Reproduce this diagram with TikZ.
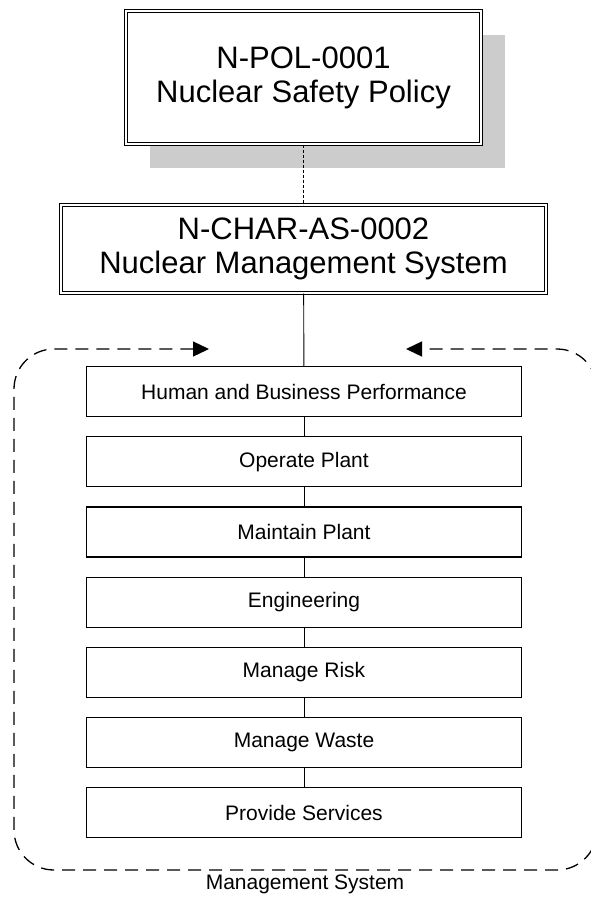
\documentclass[tikz,border=0pt]{standalone}
\usepackage{fontspec}
\setmainfont{Liberation Sans}
\usetikzlibrary{arrows.meta,shadows}

\begin{document}
\begin{tikzpicture}[x=1pt,y=-1pt,
  doc/.style={draw,double,double distance=2pt,line width=1pt,fill=white,
    inner sep=0pt,align=center,font=\fontsize{31}{34}\selectfont},
  process/.style={draw,line width=1.2pt,fill=white,minimum width=435pt,
    minimum height=50pt,font=\fontsize{21}{25}\selectfont},
  link/.style={line width=0.9pt},
  policylink/.style={line width=0.8pt,dash pattern=on 3pt off 2pt},
  mgmtloop/.style={line width=1.3pt,dash pattern=on 13pt off 8pt,
    rounded corners=40pt,
    {Triangle[length=16pt,width=15pt]}-{Triangle[length=16pt,width=15pt]}}]
  \useasboundingbox (0,0) rectangle (590,897);

  \node[doc,minimum width=355pt,minimum height=133pt,
    drop shadow={shadow xshift=24pt,shadow yshift=-24pt,fill=black!20,opacity=1}]
    (pol) at (303.5,77.5) {N-POL-0001\\Nuclear Safety Policy};
  \node[doc,minimum width=485pt,minimum height=88pt]
    (char) at (303.5,249) {N-CHAR-AS-0002\\Nuclear Management System};

  \node[process] (hbp) at (304,391.5) {Human and Business Performance};
  \node[process] (op) at (304,461.7) {Operate Plant};
  \node[process] (mp) at (304,531.9) {Maintain Plant};
  \node[process] (eng) at (304,602.1) {Engineering};
  \node[process] (risk) at (304,672.3) {Manage Risk};
  \node[process] (waste) at (304,742.5) {Manage Waste};
  \node[process] (serv) at (304,812.7) {Provide Services};

  \node[font=\fontsize{21}{25}\selectfont] (mslabel) at (305,884) {Management System};

  \coordinate (inL) at (209,349);
  \coordinate (inR) at (406,349);

  \draw[policylink] (pol) -- (char);
  \draw[link] (char) -- (hbp);
  \draw[link] (hbp) -- (op);
  \draw[link] (op) -- (mp);
  \draw[link] (mp) -- (eng);
  \draw[link] (eng) -- (risk);
  \draw[link] (risk) -- (waste);
  \draw[link] (waste) -- (serv);

  \draw[mgmtloop] (inL) -- (14,349) -- (14,870) -- (597,870) -- (597,349) -- (inR);
\end{tikzpicture}
\end{document}
